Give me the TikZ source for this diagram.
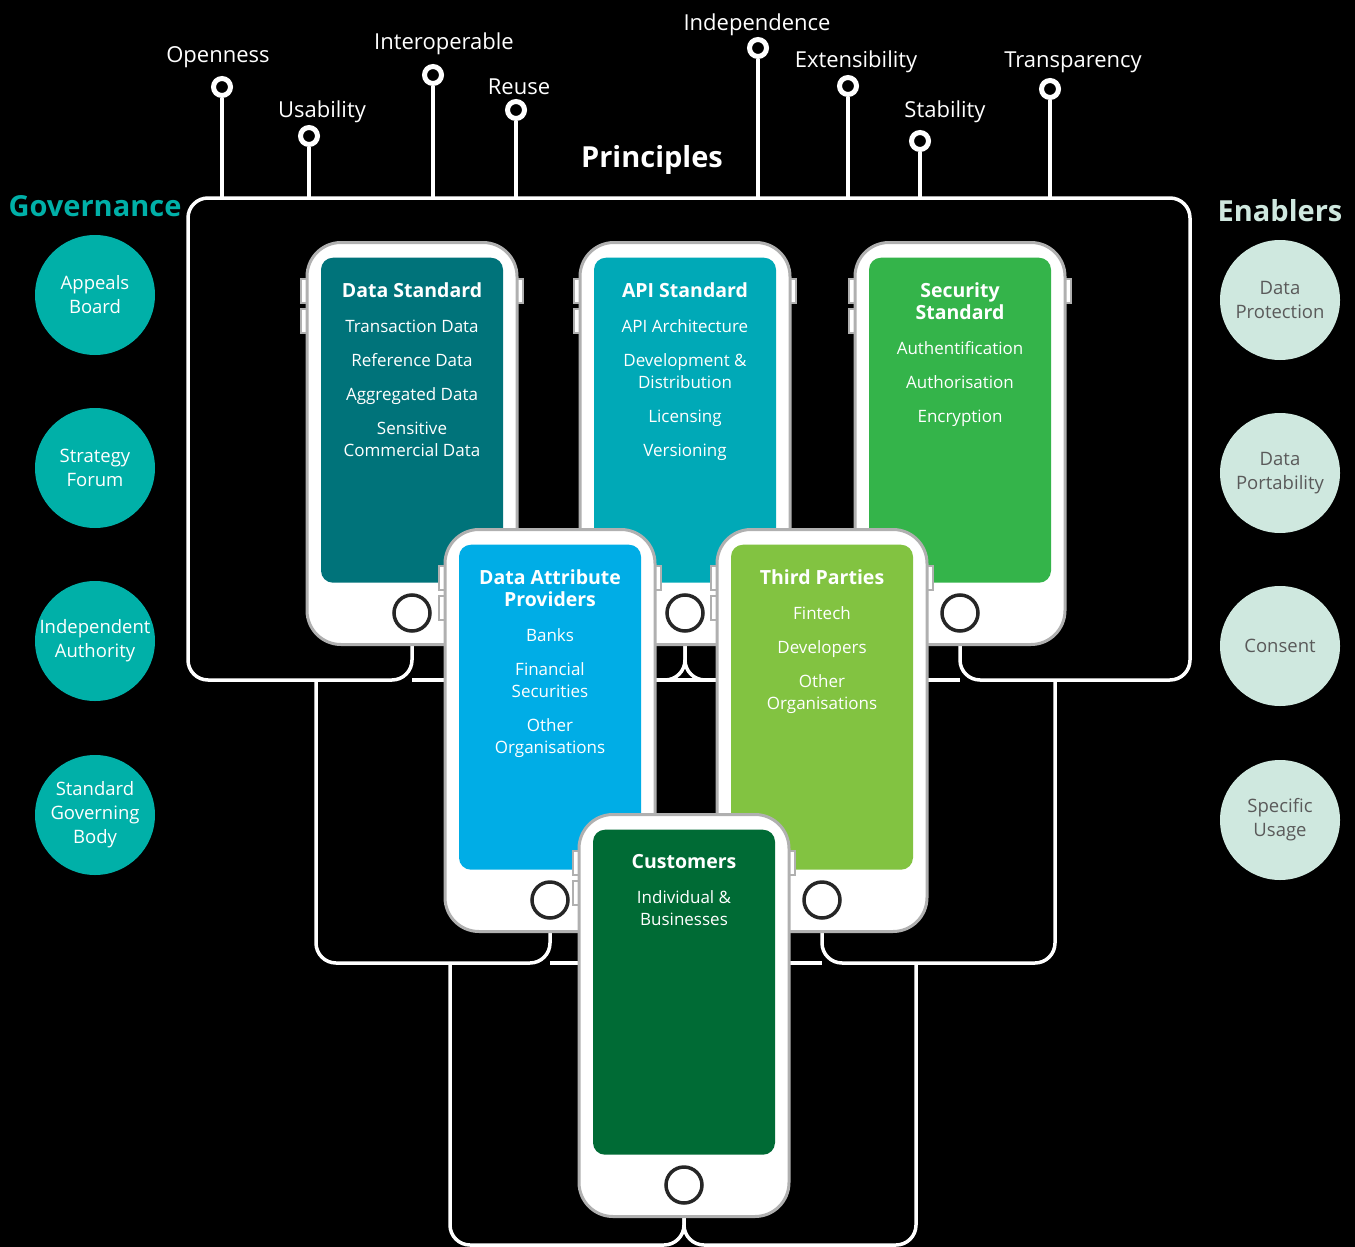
\documentclass[tikz,border=0pt]{standalone}
\usepackage{fontspec}
\setmainfont{Open Sans}
\usepackage{tikz}
\usetikzlibrary{positioning, calc}
\definecolor{govteal}{HTML}{00B0A8}
\definecolor{enabmint}{HTML}{CFE8DF}
\definecolor{enabtext}{HTML}{5A5A5A}
\definecolor{phoneedge}{HTML}{B0B0B0}
\definecolor{dsteal}{HTML}{00737A}
\definecolor{apiteal}{HTML}{00A9B7}
\definecolor{secgreen}{HTML}{34B44A}
\definecolor{dapblue}{HTML}{00ADE6}
\definecolor{tplime}{HTML}{82C341}
\definecolor{custgreen}{HTML}{006B35}
\tikzset{
    phone/.style = {draw=phoneedge, fill=white, line width=3pt,
        rounded corners=34pt, minimum width=210pt, minimum height=402pt, inner sep=0pt},
    screen/.style = {rounded corners=12pt, minimum width=182pt, minimum height=325pt, inner sep=0pt},
    sidebtn/.style = {draw=phoneedge, fill=white, line width=2pt},
    homebtn/.style = {circle, draw=black!85, fill=white, line width=3.5pt, minimum size=36pt, inner sep=0pt},
    scrtext/.style = {white, align=center, inner sep=0pt, font=\fontsize{17}{22}\selectfont},
    wire/.style = {white, line width=3.5pt, rounded corners=20pt},
    stem/.style = {white, line width=4pt},
    pin/.style = {circle, draw=white, fill=black, line width=5pt, minimum size=17pt, inner sep=0pt},
    pinlabel/.style = {white, inner sep=0pt, font=\fontsize{22}{26}\selectfont},
    gov/.style = {circle, fill=govteal, text=white, minimum size=120pt, inner sep=0pt,
        align=center, font=\fontsize{18.5}{24}\selectfont},
    enab/.style = {gov, fill=enabmint, text=enabtext},
    heading/.style = {inner sep=0pt, font=\fontsize{29}{32}\selectfont\bfseries},
}
\newcommand{\ttl}[1]{{\fontsize{19.5}{22}\selectfont\bfseries #1}}
% name, centre x, top y, screen colour, text
\newcommand{\phone}[5]{%
    \draw[sidebtn] (#2-111,#3+38) rectangle ++(6,24);
    \draw[sidebtn] (#2-111,#3+68) rectangle ++(6,24);
    \draw[sidebtn] (#2+105,#3+38) rectangle ++(6,24);
    \node[phone, anchor=north] (#1) at (#2,#3) {};
    \node[screen, fill=#4, anchor=north] (#1-scr) at ($(#1.north)+(0,16.5)$) {};
    \node[homebtn] (#1-btn) at ($(#1.south)+(0,-33)$) {};
    \node[scrtext, anchor=north] (#1-txt) at ($(#1-scr.north)+(0,25)$) {#5};
}

\begin{document}
\begin{tikzpicture}[x=1pt, y=-1pt]
    \fill[black] (0,0) rectangle (1355,1247);
    \useasboundingbox (0,0) rectangle (1355,1247);

    % bracket corners
    \coordinate (l1tl) at (188,198);
    \coordinate (l1tr) at (1190,198);
    \coordinate (l1bl) at (188,680);
    \coordinate (l1br) at (1190,680);
    \coordinate (l2tl) at (316,680);
    \coordinate (l2bl) at (316,963);
    \coordinate (l2tr) at (1055,680);
    \coordinate (l2br) at (1055,963);
    \coordinate (l3tl) at (450,963);
    \coordinate (l3bl) at (450,1245);
    \coordinate (l3tr) at (916,963);
    \coordinate (l3br) at (916,1245);

    % phone frames only as placeholders for the wires
    \path (412,241) ++(0,201) node[phone, draw=none, fill=none] (ds) {};
    \path (685,241) ++(0,201) node[phone, draw=none, fill=none] (api) {};
    \path (960,241) ++(0,201) node[phone, draw=none, fill=none] (sec) {};
    \path (550,528) ++(0,201) node[phone, draw=none, fill=none] (dap) {};
    \path (822,528) ++(0,201) node[phone, draw=none, fill=none] (tp) {};
    \path (684,813) ++(0,201) node[phone, draw=none, fill=none] (cust) {};

    \draw[wire] (ds.south) |- (l1bl) -- (l1tl) -- (l1tr) -- (l1br) -| (sec.south);
    \draw[wire] (ds.south |- l1bl) -- (sec.south |- l1bl);
    \draw[wire] (api.south) |- ($(api.south |- l1bl)+(-40,0)$);
    \draw[wire] (api.south) |- ($(api.south |- l1bl)+(40,0)$);

    \draw[wire] (l2tl) -- (l2bl) -| (dap.south);
    \draw[wire] (l2tr) -- (l2br) -| (tp.south);
    \draw[wire] (dap.south |- l2bl) -- (tp.south |- l2bl);

    \draw[wire] (l3tl) -- (l3bl) -| (cust.south);
    \draw[wire] (l3tr) -- (l3br) -| (cust.south);

    % principles
    \foreach \name/\x/\y/\lx/\ly/\txt in {
        open/222/87/218/57/Openness,
        usab/309/136/322/112/Usability,
        inter/433/75/444/44/Interoperable,
        reuse/516/110/519/87/Reuse,
        indep/758/48/757/25/Independence,
        exten/848/86/856/62/Extensibility,
        stab/920/141/945/112/Stability,
        trans/1050/89/1073/62/Transparency}{
        \node[pin] (\name) at (\x,\y) {};
        \draw[stem] (\name) -- (\name |- l1tl);
        \node[pinlabel] (\name-lbl) at (\lx,\ly) {\txt};
    }
    \node[heading, white] (principles) at (652,160) {Principles};

    \phone{ds}{412}{241}{dsteal}{\ttl{Data Standard}\\[13pt]Transaction Data\\[12pt]Reference Data\\[12pt]Aggregated Data\\[12pt]Sensitive\\Commercial Data}
    \phone{api}{685}{241}{apiteal}{\ttl{API Standard}\\[13pt]API Architecture\\[12pt]Development \&\\Distribution\\[12pt]Licensing\\[12pt]Versioning}
    \phone{sec}{960}{241}{secgreen}{\ttl{Security}\\\ttl{Standard}\\[13pt]Authentification\\[12pt]Authorisation\\[12pt]Encryption}
    \phone{dap}{550}{528}{dapblue}{\ttl{Data Attribute}\\\ttl{Providers}\\[13pt]Banks\\[12pt]Financial\\Securities\\[12pt]Other\\Organisations}
    \phone{tp}{822}{528}{tplime}{\ttl{Third Parties}\\[13pt]Fintech\\[12pt]Developers\\[12pt]Other\\Organisations}
    \phone{cust}{684}{813}{custgreen}{\ttl{Customers}\\[13pt]Individual \&\\Businesses}

    % governance
    \node[heading, govteal] (governance) at (95,206) {Governance};
    \node[gov] (appeals) at (95,295) {Appeals\\Board};
    \node[gov] (strategy) at (95,468) {Strategy\\Forum};
    \node[gov] (authority) at (95,641) {Independent\\Authority};
    \node[gov] (govbody) at (95,815) {Standard\\Governing\\Body};

    % enablers
    \node[heading, enabmint] (enablers) at (1280,211) {Enablers};
    \node[enab] (protect) at (1280,300) {Data\\Protection};
    \node[enab] (port) at (1280,473) {Data\\Portability};
    \node[enab] (consent) at (1280,646) {Consent};
    \node[enab] (usage) at (1280,820) {Specific\\Usage};
\end{tikzpicture}
\end{document}
